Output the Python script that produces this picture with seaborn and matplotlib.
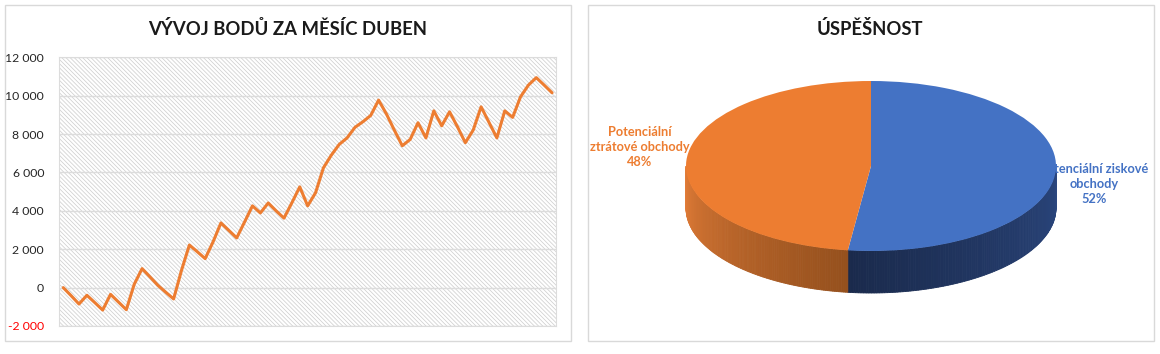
import numpy as np
import pandas as pd
import matplotlib
matplotlib.use("Agg")
import matplotlib.pyplot as plt
import seaborn as sns
from matplotlib.patches import Rectangle

# ---------------- data ----------------
line_title = "VÝVOJ BODŮ ZA MĚSÍC DUBEN"
points = [0, -420, -855, -400, -780, -1170, -350, -750, -1150, 170,
          990, 560, 120, -240, -590, 900, 2220, 1870, 1510, 2380,
          3370, 2980, 2590, 3420, 4260, 3890, 4410, 4000, 3620, 4420,
          5250, 4260, 4940, 6240, 6900, 7460, 7800, 8350, 8640, 8970,
          9770, 9040, 8200, 7390, 7720, 8590, 7800, 9210, 8430, 9160,
          8380, 7550, 8210, 9420, 8610, 7800, 9210, 8870, 9940, 10550,
          10940, 10550, 10150]
days = list(range(1, len(points) + 1))
y_ticks = [-2000, 0, 2000, 4000, 6000, 8000, 10000, 12000]

pie_title = "ÚSPĚŠNOST"
pie_labels = ["Potenciální ziskové\nobchody", "Potenciální\nztrátové obchody"]
pie_values = [52, 48]
pie_colors = ["#4472C4", "#ED7D31"]
side_colors = [("#2A467E", "#1A2A4C"), ("#E8803A", "#95501D")]

# ---------------- style ----------------
sns.set_style("white")
plt.rcParams['font.family'] = ['Lato', 'DejaVu Sans']
plt.rcParams['hatch.linewidth'] = 0.55

W, H = 1160, 354
fig = plt.figure(figsize=(W / 100, H / 100), dpi=100)


def fx(x):
    return x / W


def fy(y):
    return 1 - y / H


# panel borders
for x0, x1 in [(4.7, 571.3), (587.7, 1153.7)]:
    fig.patches.append(Rectangle((fx(x0), fy(341.3)), fx(x1) - fx(x0), fy(5.3) - fy(341.3),
                                 transform=fig.transFigure, fill=False,
                                 edgecolor='#D9D9D9', lw=1))

# ---------------- line chart ----------------
ax = fig.add_axes([fx(59.3), fy(326), fx(556) - fx(59.3), fy(57.3) - fy(326)])
ax.add_patch(Rectangle((0, 0), 1, 1, transform=ax.transAxes, facecolor='white',
                       edgecolor='#D0D0D0', hatch='\\' * 8, lw=0, zorder=0.1))
df = pd.DataFrame({'den': days, 'body': points})
sns.lineplot(data=df, x='den', y='body', ax=ax, color='#ED7D31', lw=2.2, zorder=3)
ax.set_xlim(days[0] - 0.5, days[-1] + 0.5)
ax.set_ylim(y_ticks[0], y_ticks[-1])
ax.set_yticks(y_ticks)
ax.set_yticklabels([f"{v:,}".replace(",", " ") for v in y_ticks])
for lab, v in zip(ax.get_yticklabels(), y_ticks):
    lab.set_color('#FF0000' if v < 0 else '#262626')
ax.set_xticks([])
ax.set_xlabel('')
ax.set_ylabel('')
ax.grid(axis='y', color='#DCDCDC', lw=1)
ax.set_axisbelow(True)
for s in ax.spines.values():
    s.set_color('#DCDCDC')
    s.set_linewidth(0.8)
ax.tick_params(axis='y', length=0, pad=11, labelsize=8.8)

fig.text(fx(288), fy(29), line_title, ha='center', va='center', fontsize=13.3,
         fontweight='bold', color='#1A1A1A')

# ---------------- 3D-like pie ----------------
a, b, cx, cy = 185, 85, 871, 166
pax = fig.add_axes([fx(590), fy(335), fx(1150) - fx(590), fy(50) - fy(335)])
wedges, _ = pax.pie(pie_values, colors=pie_colors, startangle=90, counterclock=False,
                    wedgeprops=dict(lw=0), radius=1)
for w in wedges:
    w.set_zorder(3)
pax.set_aspect('auto')
pax.set_xlim((590 - cx) / a, (1150 - cx) / a)
pax.set_ylim((cy - 335) / b, (cy - 50) / b)
pax.axis('off')
thick = 42 / b

fr = np.array(pie_values) / np.sum(pie_values)
bounds = 90 - 360 * np.concatenate([[0], np.cumsum(fr)])
for i in range(len(pie_values)):
    hi, lo = bounds[i], bounds[i + 1]
    vis_lo, vis_hi = max(lo, -180), min(hi, 0)
    if vis_hi <= vis_lo:
        continue
    c_left = np.array(matplotlib.colors.to_rgb(side_colors[i][0]))
    c_right = np.array(matplotlib.colors.to_rgb(side_colors[i][1]))
    if i == 0:
        c_left, c_right = c_right, c_left
    ts = np.linspace(vis_lo, vis_hi, 120)
    for t0, t1 in zip(ts[:-1], ts[1:]):
        f = (t0 - vis_lo) / (vis_hi - vis_lo)
        f = f ** 0.8 if i == 1 else f
        col = c_left * (1 - f) + c_right * f
        r0, r1 = np.radians(t0), np.radians(t1)
        xs = [np.cos(r0), np.cos(r1), np.cos(r1), np.cos(r0)]
        ys = [np.sin(r0), np.sin(r1), np.sin(r1) - thick, np.sin(r0) - thick]
        pax.fill(xs, ys, color=col, lw=0.6, zorder=2)

# labels
pct = [f"{round(v / sum(pie_values) * 100)}%" for v in pie_values]
fig.text(fx(1094), fy(184), pie_labels[0] + "\n" + pct[0], ha='center', va='center',
         color=pie_colors[0], fontsize=9.2, fontweight='bold', linespacing=1.3)
fig.text(fx(640), fy(147), pie_labels[1] + "\n" + pct[1], ha='center', va='center',
         color=pie_colors[1], fontsize=9.2, fontweight='bold', linespacing=1.3)

fig.text(fx(870), fy(29), pie_title, ha='center', va='center', fontsize=13.3,
         fontweight='bold', color='#1A1A1A')

fig.savefig("out.png", dpi=100)
